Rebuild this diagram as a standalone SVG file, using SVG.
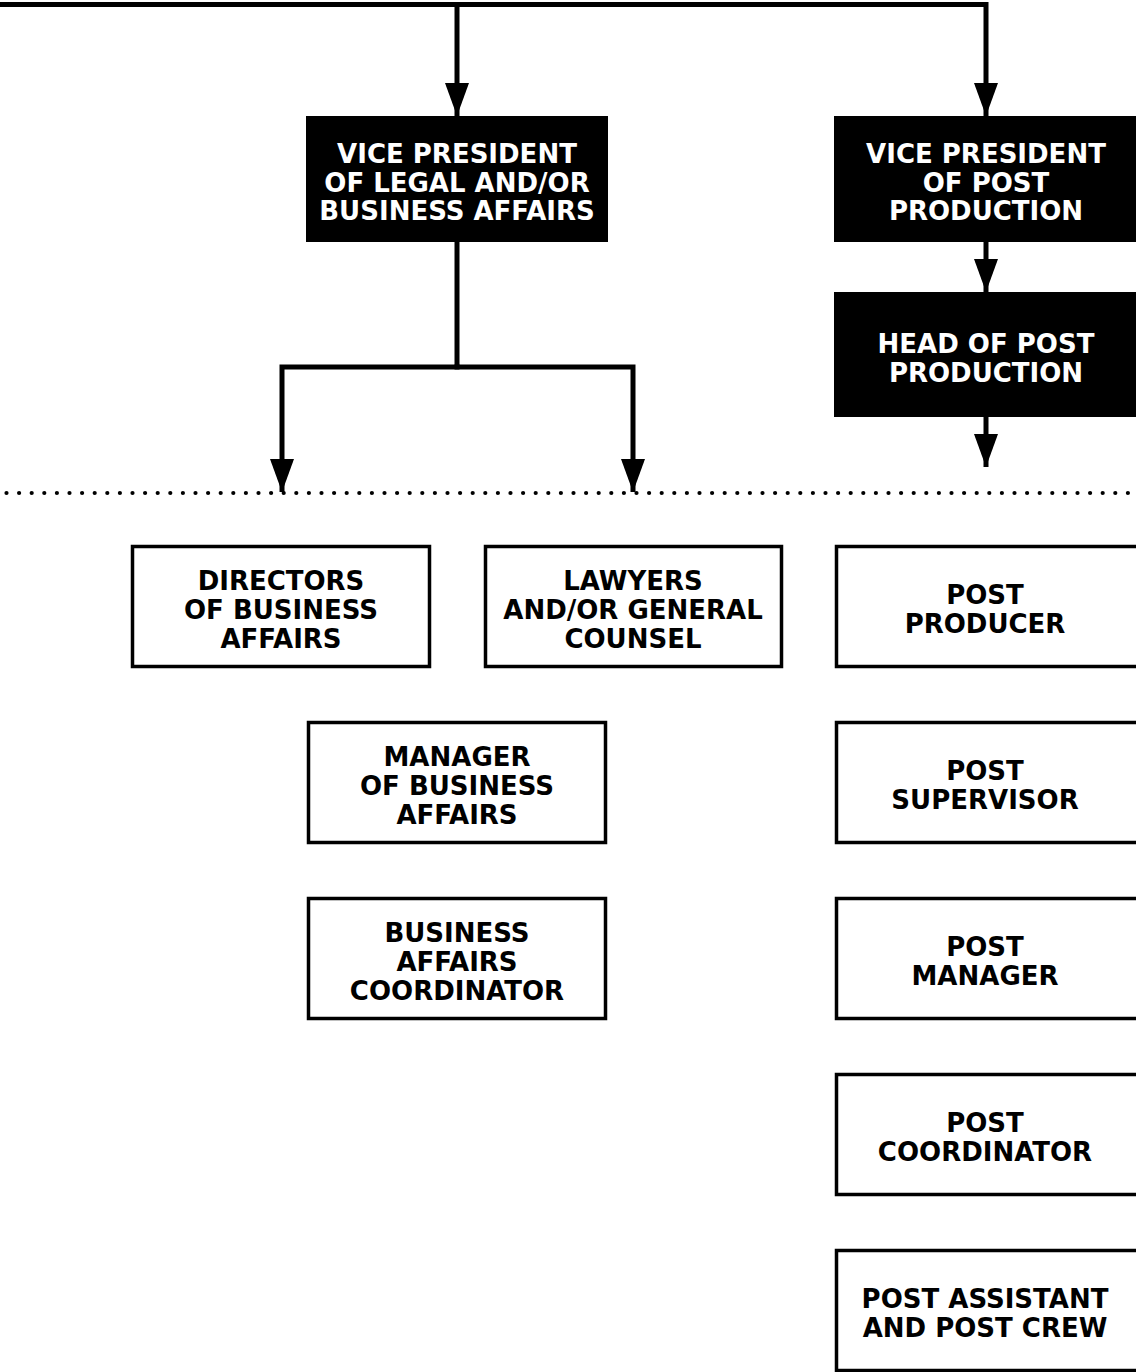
<svg xmlns="http://www.w3.org/2000/svg" width="1136" height="1372" viewBox="0 0 1136 1372">
<defs>
<marker id="arr" viewBox="0 -13 34 26" refX="33" refY="0" markerWidth="34" markerHeight="26" markerUnits="userSpaceOnUse" orient="auto">
<path d="M0,-12 L33,0 L0,12 z" fill="#000"/>
</marker>
<style>
.dark{fill:#000}
.light{fill:#fff;stroke:#000;stroke-width:3.5}
.t{font-family:"DejaVu Sans",sans-serif;font-weight:bold;font-size:26px;text-anchor:middle}
.w{fill:#fff}
.b{fill:#000}
.c{fill:none;stroke:#000;stroke-width:5}
.dot{fill:none;stroke:#000;stroke-width:4.2;stroke-linecap:round;stroke-dasharray:0 12.6}
</style>
</defs>
<rect width="1136" height="1372" fill="#fff"/>
<g id="connectors">
<path class="c" d="M0,4.5 H986 V116" marker-end="url(#arr)"/>
<path class="c" d="M457,4.5 V116" marker-end="url(#arr)"/>
<path class="c" d="M986,242 V292" marker-end="url(#arr)"/>
<path class="c" d="M986,417 V467" marker-end="url(#arr)"/>
<path class="c" d="M457,242 V367"/>
<path class="c" d="M459.5,367 H282 V492" marker-end="url(#arr)"/>
<path class="c" d="M454.5,367 H633 V492" marker-end="url(#arr)"/>
<path class="dot" d="M6.5,493 H1136"/>
</g>
<g id="vp-legal">
<rect class="dark" x="306" y="116" width="302" height="126"/>
<text class="t w"><tspan x="457" y="163">VICE PRESIDENT</tspan><tspan x="457" y="191.5">OF LEGAL AND/OR</tspan><tspan x="457" y="220">BUSINESS AFFAIRS</tspan></text>
</g>
<g id="vp-post">
<rect class="dark" x="834" y="116" width="310" height="126"/>
<text class="t w"><tspan x="986" y="163">VICE PRESIDENT</tspan><tspan x="986" y="191.5">OF POST</tspan><tspan x="986" y="220">PRODUCTION</tspan></text>
</g>
<g id="head-post">
<rect class="dark" x="834" y="292" width="310" height="125"/>
<text class="t w"><tspan x="986" y="353">HEAD OF POST</tspan><tspan x="986" y="382">PRODUCTION</tspan></text>
</g>
<g id="directors">
<rect class="light" x="132.5" y="546.5" width="297" height="120"/>
<text class="t b"><tspan x="281" y="590">DIRECTORS</tspan><tspan x="281" y="619">OF BUSINESS</tspan><tspan x="281" y="648">AFFAIRS</tspan></text>
</g>
<g id="lawyers">
<rect class="light" x="485.5" y="546.5" width="296" height="120"/>
<text class="t b"><tspan x="633" y="590">LAWYERS</tspan><tspan x="633" y="619">AND/OR GENERAL</tspan><tspan x="633" y="648">COUNSEL</tspan></text>
</g>
<g id="post-producer">
<rect class="light" x="836.5" y="546.5" width="310" height="120"/>
<text class="t b"><tspan x="985" y="604">POST</tspan><tspan x="985" y="633">PRODUCER</tspan></text>
</g>
<g id="manager">
<rect class="light" x="308.5" y="722.5" width="297" height="120"/>
<text class="t b"><tspan x="457" y="766">MANAGER</tspan><tspan x="457" y="795">OF BUSINESS</tspan><tspan x="457" y="824">AFFAIRS</tspan></text>
</g>
<g id="post-supervisor">
<rect class="light" x="836.5" y="722.5" width="310" height="120"/>
<text class="t b"><tspan x="985" y="780">POST</tspan><tspan x="985" y="809">SUPERVISOR</tspan></text>
</g>
<g id="ba-coordinator">
<rect class="light" x="308.5" y="898.5" width="297" height="120"/>
<text class="t b"><tspan x="457" y="942">BUSINESS</tspan><tspan x="457" y="971">AFFAIRS</tspan><tspan x="457" y="1000">COORDINATOR</tspan></text>
</g>
<g id="post-manager">
<rect class="light" x="836.5" y="898.5" width="310" height="120"/>
<text class="t b"><tspan x="985" y="956">POST</tspan><tspan x="985" y="985">MANAGER</tspan></text>
</g>
<g id="post-coordinator">
<rect class="light" x="836.5" y="1074.5" width="310" height="120"/>
<text class="t b"><tspan x="985" y="1132">POST</tspan><tspan x="985" y="1161">COORDINATOR</tspan></text>
</g>
<g id="post-assistant">
<rect class="light" x="836.5" y="1250.5" width="310" height="120"/>
<text class="t b"><tspan x="985" y="1308">POST ASSISTANT</tspan><tspan x="985" y="1337">AND POST CREW</tspan></text>
</g>
</svg>
